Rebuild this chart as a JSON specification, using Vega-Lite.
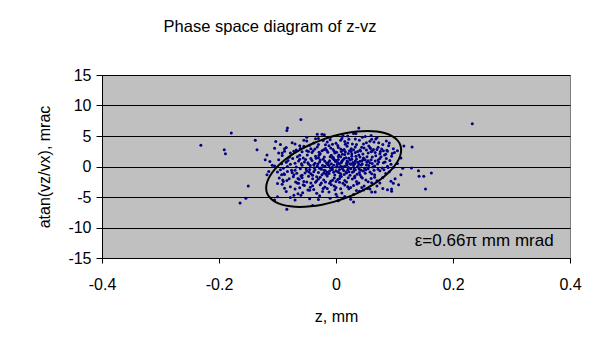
{
  "$schema": "https://vega.github.io/schema/vega-lite/v6.json",
  "width": 468,
  "height": 183,
  "autosize": {"type": "none"},
  "padding": {"left": 102, "top": 75, "right": 26, "bottom": 79},
  "background": "white",
  "title": {"text": "Phase space diagram of z-vz", "font": "Liberation Sans", "fontSize": 16.5, "fontWeight": "normal", "color": "black", "anchor": "middle", "dx": -66, "baseline": "alphabetic", "offset": 19},
  "config": {
    "view": {"fill": "#C0C0C0", "stroke": "#808080", "strokeWidth": 1},
    "axis": {"labelFont": "Liberation Sans", "labelFontSize": 16, "labelColor": "black", "titleFont": "Liberation Sans", "titleFontSize": 16, "titleFontWeight": "normal", "titleColor": "black", "domainColor": "black", "tickColor": "black", "gridColor": "black", "gridOpacity": 1, "labelFlush": false, "labelOverlap": false, "labelExpr": "replace(datum.label, '−', '-')"}
  },
  "datasets": {
    "pts": [
      {"z":-0.05,"a":4.8},{"z":-0.02,"a":5.2},{"z":0.01,"a":4.6},{"z":0.03,"a":5.4},{"z":0.05,"a":4.9},{"z":0.07,"a":4.7},{"z":-0.035,"a":4.55},
      {"z":-0.075,"a":3.9},{"z":-0.05,"a":4.2},{"z":-0.03,"a":3.6},{"z":-0.01,"a":4.4},{"z":0.0,"a":3.8},{"z":0.015,"a":4.1},{"z":0.028,"a":3.7},{"z":0.04,"a":4.3},{"z":0.052,"a":3.9},{"z":0.065,"a":4.0},{"z":0.08,"a":3.6},{"z":-0.018,"a":3.55},{"z":0.022,"a":4.45},
      {"z":-0.085,"a":3.1},{"z":-0.068,"a":2.7},{"z":-0.055,"a":3.3},{"z":-0.043,"a":2.9},{"z":-0.032,"a":3.2},{"z":-0.024,"a":2.6},{"z":-0.012,"a":3.4},{"z":-0.005,"a":2.8},{"z":0.004,"a":3.1},{"z":0.012,"a":2.65},{"z":0.019,"a":3.3},{"z":0.026,"a":2.9},{"z":0.033,"a":3.2},{"z":0.041,"a":2.7},{"z":0.048,"a":3.05},{"z":0.056,"a":3.35},{"z":0.064,"a":2.8},{"z":0.072,"a":3.15},{"z":0.081,"a":2.6},{"z":0.062,"a":2.55},{"z":-0.018,"a":2.95},{"z":0.003,"a":3.45},
      {"z":-0.092,"a":1.8},{"z":-0.078,"a":2.2},{"z":-0.066,"a":1.6},{"z":-0.058,"a":2.4},{"z":-0.049,"a":1.9},{"z":-0.041,"a":2.3},{"z":-0.035,"a":1.7},{"z":-0.027,"a":2.1},{"z":-0.02,"a":1.55},{"z":-0.014,"a":2.35},{"z":-0.008,"a":1.85},{"z":-0.002,"a":2.2},{"z":0.004,"a":1.65},{"z":0.009,"a":2.45},{"z":0.015,"a":1.95},{"z":0.021,"a":2.15},{"z":0.027,"a":1.7},{"z":0.033,"a":2.3},{"z":0.039,"a":1.9},{"z":0.046,"a":2.05},{"z":0.053,"a":1.6},{"z":0.06,"a":2.4},{"z":0.068,"a":1.75},{"z":0.075,"a":2.1},{"z":0.083,"a":1.9},{"z":0.095,"a":1.7},{"z":-0.005,"a":1.5},{"z":0.011,"a":2.0},{"z":0.026,"a":2.45},{"z":0.041,"a":1.55},
      {"z":-0.098,"a":1.1},{"z":-0.085,"a":0.7},{"z":-0.074,"a":1.3},{"z":-0.064,"a":0.9},{"z":-0.056,"a":1.4},{"z":-0.048,"a":0.6},{"z":-0.041,"a":1.0},{"z":-0.034,"a":1.35},{"z":-0.028,"a":0.75},{"z":-0.022,"a":1.2},{"z":-0.016,"a":0.55},{"z":-0.011,"a":0.95},{"z":-0.006,"a":1.4},{"z":-0.001,"a":0.8},{"z":0.004,"a":1.15},{"z":0.009,"a":0.6},{"z":0.014,"a":1.3},{"z":0.019,"a":0.9},{"z":0.024,"a":1.05},{"z":0.029,"a":0.65},{"z":0.035,"a":1.25},{"z":0.041,"a":0.85},{"z":0.047,"a":1.4},{"z":0.053,"a":0.7},{"z":0.06,"a":1.1},{"z":0.067,"a":0.9},{"z":0.075,"a":1.3},{"z":0.084,"a":0.75},{"z":0.092,"a":1.0},{"z":-0.03,"a":1.45},{"z":0.0,"a":1.0},{"z":0.017,"a":1.45},{"z":0.032,"a":0.5},{"z":0.05,"a":1.05},
      {"z":-0.105,"a":0.1},{"z":-0.09,"a":-0.3},{"z":-0.078,"a":0.35},{"z":-0.068,"a":-0.1},{"z":-0.059,"a":0.45},{"z":-0.051,"a":-0.4},{"z":-0.044,"a":0.15},{"z":-0.037,"a":-0.2},{"z":-0.031,"a":0.4},{"z":-0.025,"a":-0.45},{"z":-0.019,"a":0.05},{"z":-0.014,"a":0.3},{"z":-0.009,"a":-0.3},{"z":-0.004,"a":0.2},{"z":0.001,"a":-0.1},{"z":0.006,"a":0.45},{"z":0.011,"a":-0.35},{"z":0.016,"a":0.1},{"z":0.021,"a":-0.15},{"z":0.026,"a":0.35},{"z":0.031,"a":-0.4},{"z":0.037,"a":0.0},{"z":0.043,"a":0.25},{"z":0.049,"a":-0.3},{"z":0.056,"a":0.15},{"z":0.063,"a":-0.1},{"z":0.071,"a":0.4},{"z":0.079,"a":-0.25},{"z":0.088,"a":0.05},{"z":0.098,"a":-0.15},{"z":-0.023,"a":0.2},{"z":-0.006,"a":-0.45},{"z":0.008,"a":0.05},{"z":0.024,"a":0.45},{"z":0.04,"a":-0.45},{"z":-0.047,"a":0.4},
      {"z":-0.1,"a":-0.9},{"z":-0.088,"a":-1.3},{"z":-0.076,"a":-0.6},{"z":-0.067,"a":-1.1},{"z":-0.058,"a":-1.45},{"z":-0.05,"a":-0.75},{"z":-0.043,"a":-1.2},{"z":-0.036,"a":-0.55},{"z":-0.03,"a":-1.0},{"z":-0.024,"a":-1.35},{"z":-0.018,"a":-0.7},{"z":-0.012,"a":-1.15},{"z":-0.007,"a":-0.55},{"z":-0.002,"a":-1.4},{"z":0.003,"a":-0.85},{"z":0.008,"a":-1.2},{"z":0.013,"a":-0.65},{"z":0.018,"a":-1.05},{"z":0.024,"a":-1.45},{"z":0.03,"a":-0.8},{"z":0.036,"a":-1.25},{"z":0.043,"a":-0.6},{"z":0.05,"a":-1.1},{"z":0.058,"a":-0.9},{"z":0.066,"a":-1.35},{"z":0.075,"a":-0.7},{"z":0.085,"a":-1.15},{"z":-0.04,"a":-1.45},{"z":-0.015,"a":-0.95},{"z":0.005,"a":-1.0},{"z":0.02,"a":-0.55},{"z":0.04,"a":-1.0},
      {"z":-0.097,"a":-1.9},{"z":-0.084,"a":-2.3},{"z":-0.073,"a":-1.7},{"z":-0.063,"a":-2.1},{"z":-0.055,"a":-2.45},{"z":-0.047,"a":-1.6},{"z":-0.04,"a":-2.0},{"z":-0.033,"a":-2.35},{"z":-0.027,"a":-1.75},{"z":-0.021,"a":-2.2},{"z":-0.015,"a":-1.55},{"z":-0.009,"a":-2.4},{"z":-0.003,"a":-1.9},{"z":0.003,"a":-2.15},{"z":0.009,"a":-1.65},{"z":0.015,"a":-2.3},{"z":0.021,"a":-1.85},{"z":0.028,"a":-2.05},{"z":0.035,"a":-2.45},{"z":0.043,"a":-1.7},{"z":0.051,"a":-2.2},{"z":0.06,"a":-1.95},{"z":0.07,"a":-2.35},{"z":0.08,"a":-1.8},{"z":-0.06,"a":-1.55},{"z":0.0,"a":-2.45},
      {"z":-0.092,"a":-2.9},{"z":-0.078,"a":-3.3},{"z":-0.066,"a":-2.7},{"z":-0.054,"a":-3.1},{"z":-0.044,"a":-3.4},{"z":-0.035,"a":-2.6},{"z":-0.027,"a":-3.0},{"z":-0.019,"a":-3.35},{"z":-0.011,"a":-2.75},{"z":-0.003,"a":-3.2},{"z":0.006,"a":-2.6},{"z":0.015,"a":-3.05},{"z":0.025,"a":-3.45},{"z":0.036,"a":-2.85},{"z":0.048,"a":-3.2},{"z":0.061,"a":-2.65},{"z":-0.05,"a":-2.55},{"z":0.0,"a":-3.45},
      {"z":-0.085,"a":-4.1},{"z":-0.07,"a":-3.7},{"z":-0.057,"a":-4.3},{"z":-0.045,"a":-3.9},{"z":-0.033,"a":-4.4},{"z":-0.022,"a":-3.6},{"z":-0.012,"a":-4.2},{"z":-0.002,"a":-3.8},{"z":0.01,"a":-4.35},{"z":0.022,"a":-3.65},{"z":0.04,"a":-4.05},{"z":0.058,"a":-3.7},
      {"z":-0.078,"a":-5.1},{"z":-0.06,"a":-4.7},{"z":-0.045,"a":-5.3},{"z":-0.028,"a":-4.8},{"z":-0.01,"a":-5.2},{"z":0.015,"a":-4.9},{"z":0.025,"a":-5.35},
      {"z":-0.058,"a":0.2},{"z":-0.052,"a":1.15},{"z":-0.046,"a":-0.9},{"z":-0.039,"a":2.6},{"z":-0.036,"a":0.55},{"z":-0.033,"a":-1.7},{"z":-0.029,"a":1.85},{"z":-0.026,"a":-0.25},{"z":-0.021,"a":2.75},{"z":-0.017,"a":-1.25},{"z":-0.013,"a":0.65},{"z":-0.01,"a":1.6},{"z":-0.007,"a":-0.15},{"z":-0.003,"a":2.5},{"z":0.0,"a":-0.7},{"z":0.002,"a":0.35},{"z":0.005,"a":1.9},{"z":0.007,"a":-1.55},{"z":0.01,"a":0.85},{"z":0.012,"a":-0.05},{"z":0.014,"a":2.8},{"z":0.017,"a":-0.9},{"z":0.019,"a":0.3},{"z":0.022,"a":1.35},{"z":0.025,"a":-0.35},{"z":0.027,"a":2.05},{"z":0.03,"a":0.15},{"z":0.032,"a":-1.6},{"z":0.034,"a":1.7},{"z":0.037,"a":0.7},{"z":0.039,"a":-0.2},{"z":0.042,"a":2.55},{"z":0.045,"a":0.4},{"z":0.048,"a":1.25},{"z":0.051,"a":-0.55},{"z":0.055,"a":2.2},{"z":0.058,"a":0.6},{"z":0.062,"a":1.55},{"z":0.066,"a":0.1},{"z":0.07,"a":2.8},{"z":0.073,"a":0.75},{"z":0.077,"a":1.6},{"z":-0.062,"a":1.85},{"z":-0.07,"a":-0.6},{"z":-0.08,"a":1.5},{"z":-0.045,"a":3.5},{"z":-0.015,"a":4.0},{"z":0.035,"a":3.6},{"z":0.058,"a":3.1},{"z":0.076,"a":2.45},{"z":0.086,"a":1.3},{"z":0.045,"a":-1.9},{"z":0.065,"a":-0.6},{"z":-0.025,"a":-2.7},{"z":-0.008,"a":-3.0},{"z":0.012,"a":-2.75},{"z":-0.04,"a":-3.15},{"z":0.02,"a":-3.3},{"z":-0.065,"a":-1.95},{"z":-0.075,"a":-1.0},{"z":-0.083,"a":0.0},{"z":0.002,"a":0.0},{"z":-0.012,"a":0.15},{"z":0.018,"a":0.55},{"z":-0.02,"a":-0.6},{"z":0.008,"a":1.6},{"z":0.028,"a":-0.95},{"z":-0.004,"a":1.25},{"z":0.044,"a":0.9},{"z":-0.032,"a":0.05},{"z":0.052,"a":0.25},{"z":-0.05,"a":2.6},{"z":0.016,"a":3.65},{"z":-0.03,"a":4.6},{"z":0.09,"a":3.4},{"z":0.1,"a":2.3},{"z":0.068,"a":4.5},{"z":0.105,"a":0.5},
      {"z":-0.062,"a":3.4},{"z":-0.038,"a":3.85},{"z":-0.022,"a":4.25},{"z":-0.006,"a":3.65},{"z":0.008,"a":4.3},{"z":0.02,"a":3.85},{"z":0.033,"a":4.5},{"z":0.047,"a":3.7},{"z":0.058,"a":4.15},{"z":0.073,"a":3.9},{"z":0.086,"a":4.2},{"z":0.045,"a":4.8},{"z":0.06,"a":5.1},{"z":0.02,"a":5.0},{"z":-0.01,"a":4.8},
      {"z":-0.088,"a":2.9},{"z":-0.072,"a":2.5},{"z":-0.061,"a":2.95},{"z":-0.047,"a":2.45},{"z":-0.036,"a":2.85},{"z":-0.029,"a":2.35},{"z":-0.016,"a":2.65},{"z":-0.009,"a":3.05},{"z":0.001,"a":2.35},{"z":0.008,"a":2.85},{"z":0.016,"a":2.4},{"z":0.023,"a":2.6},{"z":0.03,"a":2.75},{"z":0.037,"a":2.45},{"z":0.044,"a":3.15},{"z":0.052,"a":2.7},{"z":0.059,"a":2.95},{"z":0.067,"a":2.3},{"z":0.078,"a":2.85},{"z":0.088,"a":2.5},{"z":0.098,"a":2.9},
      {"z":-0.093,"a":0.45},{"z":-0.082,"a":1.0},{"z":-0.07,"a":0.55},{"z":-0.062,"a":1.2},{"z":-0.054,"a":0.75},{"z":-0.043,"a":1.3},{"z":-0.038,"a":0.3},{"z":-0.027,"a":1.05},{"z":-0.019,"a":0.85},{"z":-0.008,"a":0.45},{"z":-0.003,"a":1.1},{"z":0.003,"a":0.65},{"z":0.012,"a":1.05},{"z":0.02,"a":0.75},{"z":0.027,"a":1.2},{"z":0.033,"a":0.9},{"z":0.039,"a":0.35},{"z":0.046,"a":1.1},{"z":0.055,"a":0.95},{"z":0.062,"a":0.5},{"z":0.072,"a":1.05},{"z":0.081,"a":0.6},{"z":0.094,"a":0.35},
      {"z":-0.095,"a":-0.55},{"z":-0.083,"a":-0.8},{"z":-0.072,"a":-1.35},{"z":-0.061,"a":-0.35},{"z":-0.053,"a":-1.05},{"z":-0.045,"a":-0.5},{"z":-0.038,"a":-0.85},{"z":-0.028,"a":-0.3},{"z":-0.021,"a":-1.05},{"z":-0.011,"a":-0.75},{"z":-0.004,"a":-0.95},{"z":0.006,"a":-0.5},{"z":0.014,"a":-1.3},{"z":0.022,"a":-0.85},{"z":0.033,"a":-0.55},{"z":0.041,"a":-1.35},{"z":0.047,"a":-0.75},{"z":0.055,"a":-0.35},{"z":0.061,"a":-1.2},{"z":0.072,"a":-0.45},{"z":0.082,"a":-0.55},
      {"z":-0.09,"a":-2.45},{"z":-0.08,"a":-2.0},{"z":-0.069,"a":-2.55},{"z":-0.058,"a":-1.85},{"z":-0.043,"a":-2.7},{"z":-0.03,"a":-2.05},{"z":-0.018,"a":-2.55},{"z":-0.006,"a":-2.25},{"z":0.006,"a":-1.95},{"z":0.018,"a":-2.55},{"z":0.032,"a":-1.85},{"z":0.039,"a":-2.7},{"z":0.055,"a":-2.5},{"z":0.066,"a":-1.75},{"z":0.075,"a":-2.7},
      {"z":-0.062,"a":-3.5},{"z":-0.038,"a":-3.75},{"z":-0.015,"a":-3.6},{"z":0.008,"a":-3.65},{"z":0.03,"a":-3.1},{"z":0.044,"a":-3.45},{"z":-0.088,"a":-3.55},{"z":-0.065,"a":-4.45},{"z":0.0,"a":-4.55},{"z":0.03,"a":-4.6},
      {"z":-0.179,"a":5.5},{"z":-0.231,"a":3.5},{"z":-0.191,"a":2.75},{"z":-0.189,"a":2.1},{"z":-0.138,"a":4.3},{"z":-0.135,"a":2.75},{"z":-0.118,"a":1.9},{"z":-0.121,"a":1.1},{"z":-0.113,"a":0.8},{"z":-0.103,"a":4.1},{"z":-0.095,"a":3.6},{"z":-0.105,"a":3.0},{"z":-0.098,"a":2.2},{"z":-0.092,"a":2.2},{"z":-0.088,"a":2.5},{"z":-0.109,"a":0.2},
      {"z":-0.115,"a":-0.8},{"z":-0.118,"a":-1.35},{"z":-0.093,"a":-1.35},{"z":-0.089,"a":-1.2},{"z":-0.1,"a":-2.8},{"z":-0.091,"a":-2.2},{"z":-0.15,"a":-3.2},{"z":-0.154,"a":-5.2},{"z":-0.164,"a":-6.0},{"z":-0.1,"a":-4.95},{"z":-0.105,"a":-5.5},
      {"z":0.233,"a":7.0},{"z":0.091,"a":3.85},{"z":0.116,"a":3.35},{"z":0.13,"a":3.2},{"z":0.087,"a":2.65},{"z":0.085,"a":2.0},{"z":0.096,"a":2.15},{"z":0.105,"a":2.6},{"z":0.111,"a":1.4},{"z":0.114,"a":-0.3},{"z":0.129,"a":-0.25},{"z":0.089,"a":-0.15},
      {"z":0.111,"a":-1.35},{"z":0.141,"a":-0.7},{"z":0.142,"a":-1.6},{"z":0.15,"a":-1.6},{"z":0.163,"a":-1.07},{"z":0.153,"a":-3.7},{"z":0.101,"a":-2.0},{"z":0.094,"a":-2.4},{"z":0.098,"a":-2.75},{"z":0.107,"a":-3.0},{"z":0.08,"a":-3.6},{"z":0.088,"a":-3.8},{"z":0.095,"a":-3.7},{"z":0.095,"a":-4.07},{"z":0.091,"a":-0.85},
      {"z":-0.06,"a":7.7},{"z":-0.083,"a":6.3},{"z":-0.084,"a":5.9},{"z":-0.032,"a":5.3},{"z":-0.024,"a":5.3},{"z":0.039,"a":6.3},{"z":0.034,"a":5.4},{"z":0.012,"a":5.0},{"z":-0.07,"a":3.7},{"z":-0.055,"a":4.3},{"z":0.061,"a":4.45},
      {"z":-0.084,"a":-7.0},{"z":-0.07,"a":-5.5},{"z":-0.04,"a":-6.4},{"z":-0.072,"a":-4.7},{"z":-0.048,"a":-3.85},{"z":-0.03,"a":-5.4},{"z":-0.023,"a":-4.1},{"z":0.002,"a":-4.95},{"z":0.004,"a":-5.6},{"z":0.03,"a":-5.8},{"z":0.035,"a":-3.95},{"z":0.047,"a":-3.85},{"z":0.061,"a":-4.2},{"z":0.067,"a":-4.2},{"z":0.054,"a":-3.6},{"z":0.07,"a":-3.2},{"z":-0.064,"a":-2.75},{"z":-0.056,"a":-3.0}
    ],
    "ell": [
      {"t":0,"z":0.1114,"a":2.715},{"t":10,"z":0.1096,"a":3.604},{"t":20,"z":0.1044,"a":4.372},{"t":30,"z":0.0959,"a":4.995},{"t":40,"z":0.0844,"a":5.454},{"t":50,"z":0.0702,"a":5.735},{"t":60,"z":0.0537,"a":5.83},{"t":70,"z":0.0355,"a":5.735},{"t":80,"z":0.016,"a":5.454},{"t":90,"z":-0.004,"a":4.995},{"t":100,"z":-0.024,"a":4.372},{"t":110,"z":-0.0435,"a":3.604},{"t":120,"z":-0.0617,"a":2.715},{"t":130,"z":-0.0782,"a":1.731},{"t":140,"z":-0.0924,"a":0.682},{"t":150,"z":-0.1039,"a":-0.4},{"t":160,"z":-0.1124,"a":-1.482},{"t":170,"z":-0.1177,"a":-2.531},{"t":180,"z":-0.1194,"a":-3.515},{"t":190,"z":-0.1177,"a":-4.404},{"t":200,"z":-0.1124,"a":-5.172},{"t":210,"z":-0.1039,"a":-5.795},{"t":220,"z":-0.0924,"a":-6.254},{"t":230,"z":-0.0782,"a":-6.535},{"t":240,"z":-0.0617,"a":-6.63},{"t":250,"z":-0.0435,"a":-6.535},{"t":260,"z":-0.024,"a":-6.254},{"t":270,"z":-0.004,"a":-5.795},{"t":280,"z":0.016,"a":-5.172},{"t":290,"z":0.0355,"a":-4.404},{"t":300,"z":0.0537,"a":-3.515},{"t":310,"z":0.0702,"a":-2.531},{"t":320,"z":0.0844,"a":-1.482},{"t":330,"z":0.0959,"a":-0.4},{"t":340,"z":0.1044,"a":0.682},{"t":350,"z":0.1096,"a":1.731}
    ],
    "lbl": [{"z":0.372,"a":-13.0,"label":"ε=0.66π mm mrad"}]
  },
  "encoding": {
    "x": {"field": "z", "type": "quantitative", "scale": {"domain": [-0.4, 0.4], "nice": false, "zero": false},
      "axis": {"title": "z, mm", "values": [-0.4, -0.2, 0, 0.2, 0.4], "grid": false, "tickSize": 5, "labelPadding": 13, "titlePadding": 16, "format": "~g"}},
    "y": {"field": "a", "type": "quantitative", "scale": {"domain": [-15, 15], "nice": false, "zero": false},
      "axis": {"title": "atan(vz/vx), mrac", "values": [-15, -10, -5, 0, 5, 10, 15], "grid": true, "tickSize": 6, "labelPadding": 5, "titlePadding": 15}}
  },
  "layer": [
    {"data": {"name": "pts"}, "mark": {"type": "circle", "size": 9, "color": "#000080", "opacity": 1}},
    {"data": {"name": "ell"}, "mark": {"type": "line", "interpolate": "cardinal-closed", "color": "black", "strokeWidth": 2}, "encoding": {"order": {"field": "t", "type": "quantitative"}}},
    {"data": {"name": "lbl"}, "mark": {"type": "text", "align": "right", "baseline": "alphabetic", "font": "Liberation Sans", "fontSize": 17, "color": "black"}, "encoding": {"text": {"field": "label"}}}
  ]
}
